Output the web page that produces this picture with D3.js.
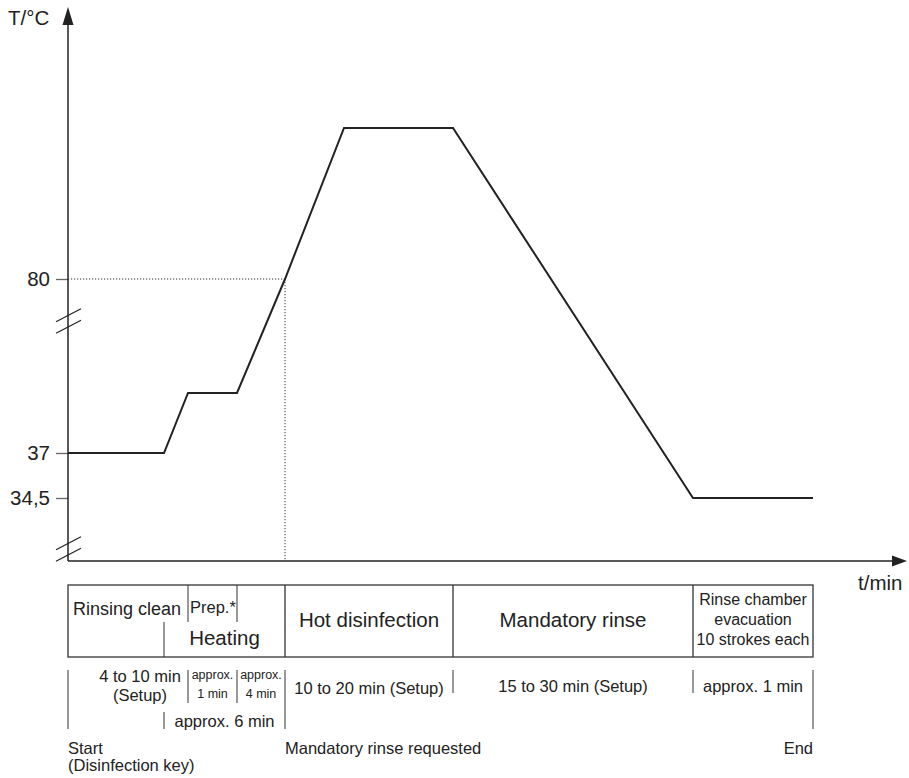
<!DOCTYPE html>
<html>
<head>
<meta charset="utf-8">
<script src="https://cdn.jsdelivr.net/npm/d3@7"></script>
<style>
  html, body { margin: 0; padding: 0; background: #fff; }
  svg { display: block; }
  text { font-family: "Liberation Sans", Arial, Helvetica, sans-serif; fill: #222; }
</style>
</head>
<body>
<svg id="chart" width="909" height="778"></svg>
<script>
// ---- Data ----
// temperature profile (schematic time units, °C)
const profileTime = [0, 9.6, 12.0, 16.9, 21.7, 27.6, 38.5, 62.5, 74.5];
const profileTemp = [37, 37, 40.3, 40.3, 80, 93, 93, 34.5, 34.5];
const yTickValues = [34.5, 37, 80];
const refTime = 21.7;   // "Mandatory rinse requested"
const refTemp = 80;
const breakTemps = [65.4, 31.67];

// phase table boundaries (time units)
const tableStart = 0, tableEnd = 74.5;
const fullDividers = [21.7, 38.5, 62.5];
const topDividers = [12.0, 16.9];
const bottomDividers = [9.6];
// tick lines below table
const longTicks = [0, 21.7, 74.5];
const midTicks = [12.0, 16.9];
const shortTicks = [38.5, 62.5];
const lowTicks = [9.6];

const phaseLabels = ["Rinsing clean", "Prep.*", "Heating", "Hot disinfection", "Mandatory rinse"];
const evacLabel = ["Rinse chamber", "evacuation", "10 strokes each"];
const durationLabels = ["4 to 10 min", "(Setup)", "approx.", "1 min", "approx.", "4 min",
                        "approx. 6 min", "10 to 20 min (Setup)", "15 to 30 min (Setup)", "approx. 1 min"];
const eventLabels = ["Start", "(Disinfection key)", "Mandatory rinse requested", "End"];

// ---- Scales ----
const svg = d3.select("#chart");
const x = d3.scaleLinear().domain([0, 83.8]).range([68, 906]);
const y = d3.scaleLinear()
  .domain([31, 34.5, 37, 40.3, 80, 93, 103.3])
  .range([561, 498, 453, 393, 279, 128, 8]);

const ink = "#222";

// ---- Reference dotted lines ----
svg.append("line")
  .attr("x1", x(0)).attr("x2", x(refTime))
  .attr("y1", y(refTemp)).attr("y2", y(refTemp))
  .attr("stroke", "#333").attr("stroke-width", 1).attr("stroke-dasharray", "1.2,1.8");
svg.append("line")
  .attr("x1", x(refTime)).attr("x2", x(refTime))
  .attr("y1", y(refTemp)).attr("y2", y(31))
  .attr("stroke", "#333").attr("stroke-width", 1).attr("stroke-dasharray", "1.2,1.8");

// ---- Y axis ticks ----
const yAxis = d3.axisLeft(y).tickValues(yTickValues).tickSize(12).tickPadding(6)
  .tickFormat(d => String(d).replace(".", ","));
const gy = svg.append("g").attr("transform", `translate(${x(0)},0)`).call(yAxis);
gy.select(".domain").remove();
gy.selectAll(".tick line").attr("stroke", "#666").attr("stroke-width", 1.3);
gy.selectAll(".tick text").attr("font-size", 20.5).attr("fill", ink)
  .style("font-family", '"Liberation Sans", Arial, sans-serif');

// ---- Axes lines with arrows ----
svg.append("line").attr("x1", x(0)).attr("x2", x(0)).attr("y1", y(31)).attr("y2", 20)
  .attr("stroke", ink).attr("stroke-width", 1.5);
svg.append("path").attr("d", `M${x(0)},7 L${x(0) - 5.5},25 L${x(0) + 5.5},25 Z`).attr("fill", ink);
svg.append("line").attr("x1", x(0)).attr("x2", 895).attr("y1", y(31)).attr("y2", y(31))
  .attr("stroke", ink).attr("stroke-width", 1.5);
svg.append("path").attr("d", `M907,${y(31)} L892,${y(31) - 5.5} L892,${y(31) + 5.5} Z`).attr("fill", ink);

// axis break marks
breakTemps.forEach(t => {
  const c = y(t);
  [-5.75, 5.75].forEach(o => {
    svg.append("line")
      .attr("x1", x(0) - 12).attr("y1", c + o + 6.5)
      .attr("x2", x(0) + 13).attr("y2", c + o - 6.5)
      .attr("stroke", ink).attr("stroke-width", 1.2);
  });
});

svg.append("text").attr("x", 8).attr("y", 25).attr("font-size", 20.5).text("T/°C");
svg.append("text").attr("x", 858).attr("y", 590).attr("font-size", 20.5).text("t/min");

// ---- Profile line ----
const pts = profileTime.map((t, i) => [t, profileTemp[i]]);
svg.append("path").datum(pts)
  .attr("d", d3.line().x(d => x(d[0])).y(d => y(d[1])))
  .attr("fill", "none").attr("stroke", ink).attr("stroke-width", 2).attr("stroke-linejoin", "miter");

// ---- Phase table ----
const tTop = 585, tMid = 622, tBot = 657;
const tc = "#333";
svg.append("rect").attr("x", x(tableStart)).attr("y", tTop)
  .attr("width", x(tableEnd) - x(tableStart)).attr("height", tBot - tTop)
  .attr("fill", "none").attr("stroke", tc).attr("stroke-width", 1.3);
const vline = (t, y1, y2, w) => svg.append("line")
  .attr("x1", x(t)).attr("x2", x(t)).attr("y1", y1).attr("y2", y2)
  .attr("stroke", tc).attr("stroke-width", w || 1.3);
fullDividers.forEach(t => vline(t, tTop, tBot));
topDividers.forEach(t => vline(t, tTop, tMid, 1));
bottomDividers.forEach(t => vline(t, tMid, tBot, 1));

const txt = (s, xx, yy, size, anchor) => svg.append("text")
  .attr("x", xx).attr("y", yy).attr("font-size", size)
  .attr("text-anchor", anchor || "middle").text(s);

txt(phaseLabels[0], x(0) + 5, 615, 18, "start");
txt(phaseLabels[1], x(12.0) + 2, 613, 16.5, "start");
txt(phaseLabels[2], (x(9.6) + x(21.7)) / 2, 645, 20.5);
txt(phaseLabels[3], (x(21.7) + x(38.5)) / 2, 627, 20.5);
txt(phaseLabels[4], (x(38.5) + x(62.5)) / 2, 627, 20.5);
evacLabel.forEach((s, i) => txt(s, (x(62.5) + x(74.5)) / 2, 605 + i * 20, 16));

// ---- Duration ticks below table ----
const dTop = 670;
longTicks.forEach(t => vline(t, dTop, 729, 1));
midTicks.forEach(t => vline(t, dTop, 703, 1));
shortTicks.forEach(t => vline(t, dTop, 693, 1));
lowTicks.forEach(t => vline(t, 712, 729, 1));

txt(durationLabels[0], x(7.2), 682, 16.5);
txt(durationLabels[1], x(7.2), 701, 16.5);
txt(durationLabels[2], (x(12.0) + x(16.9)) / 2, 679, 12.5);
txt(durationLabels[3], (x(12.0) + x(16.9)) / 2, 698, 12.5);
txt(durationLabels[4], (x(16.9) + x(21.7)) / 2, 679, 12.5);
txt(durationLabels[5], (x(16.9) + x(21.7)) / 2, 698, 12.5);
txt(durationLabels[6], (x(9.6) + x(21.7)) / 2, 727, 16.5);
txt(durationLabels[7], (x(21.7) + x(38.5)) / 2, 694, 16.5);
txt(durationLabels[8], (x(38.5) + x(62.5)) / 2, 692, 16.5);
txt(durationLabels[9], (x(62.5) + x(74.5)) / 2, 692, 16.5);

// ---- Event labels ----
txt(eventLabels[0], x(0), 754, 16.5, "start");
txt(eventLabels[1], x(0), 771, 16.5, "start");
txt(eventLabels[2], x(refTime), 754, 16.5, "start");
txt(eventLabels[3], x(74.5), 754, 16.5, "end");
</script>
</body>
</html>
